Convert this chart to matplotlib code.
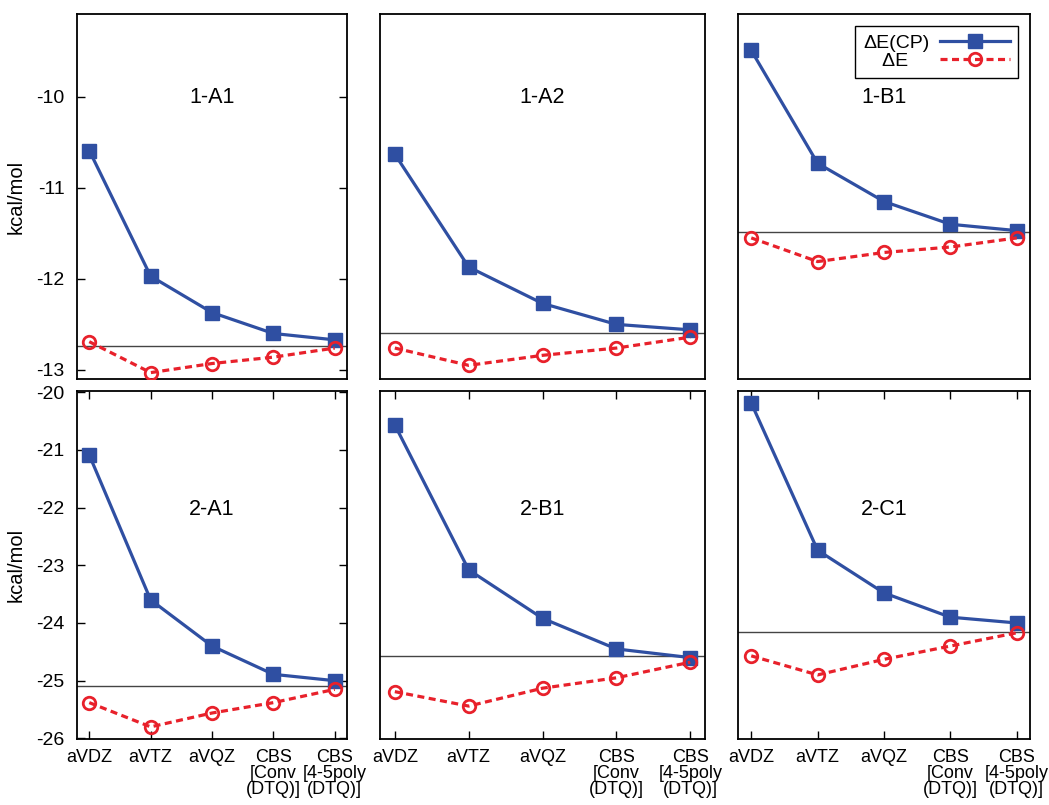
import matplotlib
matplotlib.use("Agg")
import matplotlib.pyplot as plt

plt.rcParams["font.family"] = ["Liberation Sans", "DejaVu Sans"]
plt.rcParams["axes.unicode_minus"] = False

# --- data (kcal/mol) ---
basis_labels = ["aVDZ", "aVTZ", "aVQZ", "CBS\n[Conv\n(DTQ)]", "CBS\n[4-5poly\n(DTQ)]"]
panel_names = ["1-A1", "1-A2", "1-B1", "2-A1", "2-B1", "2-C1"]

cp_1A1 = [-10.59, -11.97, -12.37, -12.60, -12.67]
raw_1A1 = [-12.69, -13.03, -12.93, -12.86, -12.76]
cp_1A2 = [-10.63, -11.87, -12.27, -12.50, -12.56]
raw_1A2 = [-12.76, -12.95, -12.84, -12.76, -12.64]
cp_1B1 = [-9.49, -10.73, -11.15, -11.40, -11.47]
raw_1B1 = [-11.55, -11.81, -11.71, -11.65, -11.55]
cp_2A1 = [-21.09, -23.60, -24.40, -24.89, -25.00]
raw_2A1 = [-25.38, -25.80, -25.56, -25.38, -25.15]
cp_2B1 = [-20.57, -23.08, -23.92, -24.45, -24.60]
raw_2B1 = [-25.19, -25.44, -25.13, -24.95, -24.68]
cp_2C1 = [-20.19, -22.74, -23.48, -23.90, -24.00]
raw_2C1 = [-24.57, -24.90, -24.63, -24.40, -24.17]

ref_values = [-12.74, -12.60, -11.48, -25.09, -24.57, -24.16]

cp_series = [cp_1A1, cp_1A2, cp_1B1, cp_2A1, cp_2B1, cp_2C1]
raw_series = [raw_1A1, raw_1A2, raw_1B1, raw_2A1, raw_2B1, raw_2C1]

top_ylim = (-13.10, -9.09)
bottom_ylim = (-26.01, -19.99)
top_yticks = [-13, -12, -11, -10]
bottom_yticks = [-26, -25, -24, -23, -22, -21, -20]

blue = "#2f4fa2"
red = "#e8212b"

fig = plt.figure(figsize=(10.49, 8.05), dpi=100)

# column / row geometry (figure fractions)
col_x = [(0.0734, 0.2574), (0.3623, 0.3098), (0.7035, 0.2784)]
row_y = [(0.5292, 0.4534), (0.0820, 0.4317)]
title_y = [0.77, 0.66]

x = list(range(len(basis_labels)))

for i in range(6):
    r, c = divmod(i, 3)
    ax = fig.add_axes([col_x[c][0], row_y[r][0], col_x[c][1], row_y[r][1]])

    ax.axhline(ref_values[i], color="#444444", lw=1.0, zorder=1)
    ax.plot(x, cp_series[i], color=blue, lw=2.3, marker="s", ms=9.5,
            label="ΔE(CP)", zorder=3)
    # trailing spaces keep the short label roughly centred above the long one
    ax.plot(x, raw_series[i], color=red, lw=2.3, ls=(0, (2.2, 1.4)), marker="o",
            ms=9, mfc="none", mew=2.0, label="ΔE    ", zorder=4)

    ax.set_xlim(-0.2, 4.2)
    ax.set_ylim(top_ylim if r == 0 else bottom_ylim)
    ax.text(0.5, title_y[r], panel_names[i], transform=ax.transAxes,
            ha="center", va="center", fontsize=15.5)

    for s in ax.spines.values():
        s.set_linewidth(1.3)

    ax.set_xticks(x)
    if r == 1:
        ax.set_xticklabels(basis_labels, fontsize=13, linespacing=0.95)
        ax.tick_params(axis="x", direction="in", top=True, bottom=True,
                       length=6, width=1.0, pad=7)
    else:
        ax.tick_params(axis="x", bottom=False, labelbottom=False)

    if c == 0:
        ax.set_yticks(top_yticks if r == 0 else bottom_yticks)
        ax.tick_params(axis="y", direction="in", left=True, right=True,
                       length=6, width=1.0, labelsize=14, pad=9)
        ax.set_ylabel("kcal/mol", fontsize=14.5)
        ax.yaxis.set_label_coords(-0.19, 0.5)
    else:
        ax.tick_params(axis="y", left=False, labelleft=False)

    if i == 2:
        leg = ax.legend(loc="upper right", markerfirst=False, fontsize=14,
                        handlelength=3.6, fancybox=False, framealpha=1,
                        edgecolor="black", borderpad=0.45, labelspacing=0.0,
                        borderaxespad=0.6, handletextpad=0.5)
        leg.get_frame().set_linewidth(1.0)

fig.savefig("out.png", dpi=100)
